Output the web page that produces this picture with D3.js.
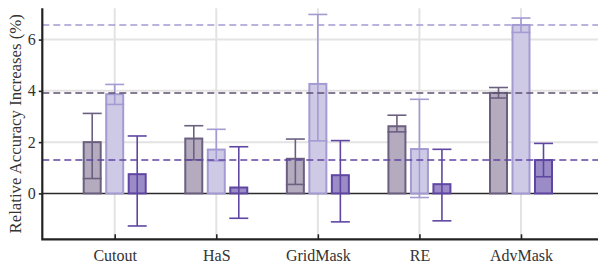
<!DOCTYPE html>
<html>
<head>
<meta charset="utf-8">
<script src="https://cdn.jsdelivr.net/npm/d3@7"></script>
<style>
    body { margin: 0; background: #fff; }
    svg text { font-family: 'Liberation Serif', 'Times New Roman', 'DejaVu Serif', serif !important; }
</style>
</head>
<body>
<svg id="chart" width="598" height="265"></svg>
<script>
const categories = ['Cutout', 'HaS', 'GridMask', 'RE', 'AdvMask']
const yTicks = [0, 2, 4, 6]

// three methods per category: mean, lower and upper error ends
const meanA = [2.00, 2.14, 1.35, 2.62, 3.92]
const lowA = [0.58, 1.31, 0.35, 2.40, 3.72]
const highA = [3.12, 2.64, 2.12, 3.05, 4.13]

const meanB = [3.87, 1.71, 4.27, 1.73, 6.57]
const lowB = [3.47, 1.27, 2.05, -0.16, 6.28]
const highB = [4.25, 2.50, 6.98, 3.67, 6.84]

const meanC = [0.75, 0.23, 0.71, 0.36, 1.30]
const lowC = [-1.27, -0.97, -1.11, -1.07, 0.65]
const highC = [2.24, 1.82, 2.06, 1.72, 1.95]

// reference levels = the AdvMask means
const refLines = [meanB[4], meanA[4], meanC[4]]

const series = [
    { mean: meanA, low: lowA, high: highA, fill: '#b4abbe', stroke: '#6c6081', offset: -1 },
    { mean: meanB, low: lowB, high: highB, fill: '#cecae6', stroke: '#a39bd2', offset: 0 },
    { mean: meanC, low: lowC, high: highC, fill: '#9b8cc7', stroke: '#5f46a2', offset: 1 }
]
const refColours = ['#a39bd2', '#5d5270', '#5f46a2']

const width = 598
const plotLeft = 42.3, plotTop = 8.3, plotBottom = 239.3
const barStep = 22.5, barWidth = 17

const svg = d3.select('#chart')

const x = d3.scalePoint().domain(categories).range([114.7, 521])
const y = d3.scaleLinear().domain([-1.79, 7.22]).range([plotBottom, plotTop])

// grid
svg.append('g')
    .selectAll('line')
    .data(yTicks.filter(d => d !== 0))
    .join('line')
    .attr('x1', plotLeft).attr('x2', width)
    .attr('y1', d => y(d)).attr('y2', d => y(d))
    .attr('stroke', '#e3e3e3').attr('stroke-width', 2)

svg.append('g')
    .selectAll('line')
    .data(categories)
    .join('line')
    .attr('x1', d => x(d)).attr('x2', d => x(d))
    .attr('y1', plotTop).attr('y2', plotBottom)
    .attr('stroke', '#e3e3e3').attr('stroke-width', 2)

// zero line
svg.append('line')
    .attr('x1', plotLeft).attr('x2', width)
    .attr('y1', y(0)).attr('y2', y(0))
    .attr('stroke', '#2a2a2a').attr('stroke-width', 1.5)

// bars
series.forEach(s => {
    svg.append('g')
        .selectAll('rect')
        .data(categories)
        .join('rect')
        .attr('x', d => x(d) + s.offset * barStep - barWidth / 2)
        .attr('width', barWidth)
        .attr('y', (d, i) => y(Math.max(0, s.mean[i])))
        .attr('height', (d, i) => Math.abs(y(s.mean[i]) - y(0)))
        .attr('fill', s.fill)
        .attr('stroke', s.stroke)
        .attr('stroke-width', 2)
})

// error bars
series.forEach(s => {
    const g = svg.append('g').attr('stroke', s.stroke).attr('stroke-width', 1.6)
    categories.forEach((c, i) => {
        const cx = x(c) + s.offset * barStep
        const hw = (barWidth + 2) / 2
        g.append('line').attr('x1', cx).attr('x2', cx).attr('y1', y(s.low[i])).attr('y2', y(s.high[i]))
        g.append('line').attr('x1', cx - hw).attr('x2', cx + hw).attr('y1', y(s.low[i])).attr('y2', y(s.low[i]))
        g.append('line').attr('x1', cx - hw).attr('x2', cx + hw).attr('y1', y(s.high[i])).attr('y2', y(s.high[i]))
    })
})

// dashed reference lines
svg.append('g')
    .selectAll('line')
    .data(refLines)
    .join('line')
    .attr('x1', plotLeft).attr('x2', width)
    .attr('y1', d => y(d)).attr('y2', d => y(d))
    .attr('stroke', (d, i) => refColours[i])
    .attr('stroke-width', 1.5)
    .attr('stroke-dasharray', '7,4')

// axes
svg.append('g')
    .attr('transform', `translate(${plotLeft},0)`)
    .call(d3.axisLeft(y).tickValues(yTicks).tickSize(3.5).tickPadding(3))
    .attr('font-size', 16)
    .call(g => g.select('.domain').remove())
    .call(g => g.selectAll('line').attr('stroke', '#222').attr('stroke-width', 1.6))
    .call(g => g.selectAll('text').attr('fill', '#333'))

svg.append('g')
    .attr('transform', `translate(0,${plotBottom})`)
    .call(d3.axisBottom(x).tickSize(-5).tickPadding(10))
    .attr('font-size', 16)
    .call(g => g.select('.domain').remove())
    .call(g => g.selectAll('line').attr('stroke', '#222').attr('stroke-width', 1.6))
    .call(g => g.selectAll('text').attr('fill', '#333'))

// spines
svg.append('path')
    .attr('d', `M${plotLeft},${plotTop}V${plotBottom}H${width}`)
    .attr('fill', 'none')
    .attr('stroke', '#222')
    .attr('stroke-width', 2.2)

svg.append('text')
    .attr('transform', 'rotate(-90)')
    .attr('x', -(plotTop + plotBottom) / 2)
    .attr('y', 20.5)
    .attr('text-anchor', 'middle')
    .attr('fill', '#333')
    .attr('font-size', 16.8)
    .text('Relative Accuracy Increases (%)')
</script>
</body>
</html>
